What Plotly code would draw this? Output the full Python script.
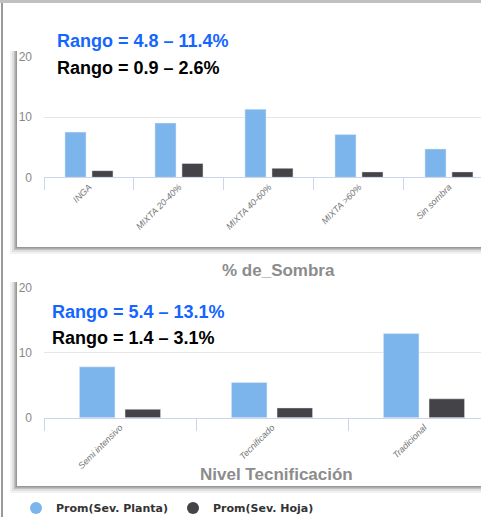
import plotly.graph_objects as go

W, H = 481, 517

# ---- data ----
sombra_cats = ["INGA", "MIXTA 20-40%", "MIXTA 40-60%", "MIXTA >60%", "Sin sombra"]
sombra_planta = [7.5, 9.0, 11.3, 7.1, 4.7]
sombra_hoja = [1.1, 2.3, 1.5, 0.9, 0.9]

tec_cats = ["Semi intensivo", "Tecnificado", "Tradicional"]
tec_planta = [7.8, 5.4, 12.9]
tec_hoja = [1.3, 1.5, 2.9]

y_ticks = [0, 10, 20]
series_names = ["Prom(Sev. Planta)", "Prom(Sev. Hoja)"]
colors = ["#7cb5ec", "#434348"]

range_texts_top = ["Rango = 4.8 – 11.4%", "Rango = 0.9 – 2.6%"]
range_texts_bot = ["Rango = 5.4 – 13.1%", "Rango = 1.4 – 3.1%"]
title_top = "% de_Sombra"
title_bot = "Nivel Tecnificación"


def px(x):
    return x / W


def py(y):
    return 1 - y / H


fig = go.Figure()

fig.add_trace(go.Bar(x=sombra_cats, y=sombra_planta, marker_color=colors[0],
                     xaxis="x", yaxis="y", showlegend=False, name=series_names[0]))
fig.add_trace(go.Bar(x=sombra_cats, y=sombra_hoja, marker_color=colors[1],
                     xaxis="x", yaxis="y", showlegend=False, name=series_names[1]))
fig.add_trace(go.Bar(x=tec_cats, y=tec_planta, marker_color=colors[0],
                     xaxis="x2", yaxis="y2", showlegend=False, name=series_names[0]))
fig.add_trace(go.Bar(x=tec_cats, y=tec_hoja, marker_color=colors[1],
                     xaxis="x2", yaxis="y2", showlegend=False, name=series_names[1]))

# legend entries (circle markers)
for name, c in zip(series_names, colors):
    fig.add_trace(go.Scatter(x=[None], y=[None], mode="markers", name=name,
                             marker=dict(symbol="circle", size=12, color=c),
                             xaxis="x", yaxis="y", showlegend=True))

xcommon = dict(type="category", tickson="boundaries", ticks="outside", ticklen=12,
               tickcolor="#ccd6eb", showline=True, linecolor="#ccd6eb", linewidth=1,
               tickangle=-45, showgrid=False, zeroline=False, automargin=False,
               tickfont=dict(family="Liberation Sans", size=9, color="#777", style="italic"))
ycommon = dict(tickvals=y_ticks, showgrid=True, gridcolor="#e6e6e6", zeroline=False,
               showline=False, ticks="", ticklabelstandoff=11, automargin=False,
               tickfont=dict(family="Liberation Sans", size=12, color="#888"))

# panels (soft shadow to the left / bottom + white card)
shapes = []
for (x0, y0, x1, y1) in [(17, 49, 485, 247), (17, 280, 485, 486)]:
    for off, alpha in [(7, 0.05), (5, 0.08), (3, 0.14), (1.5, 0.2)]:
        shapes.append(dict(type="rect", xref="paper", yref="paper", layer="below",
                           x0=px(x0 - off), x1=px(x1), y0=py(y1 + off), y1=py(y0 + 2),
                           fillcolor=f"rgba(0,0,0,{alpha})", line=dict(width=0)))
    shapes.append(dict(type="rect", xref="paper", yref="paper", layer="below",
                       x0=px(x0), x1=px(x1), y0=py(y1), y1=py(y0),
                       fillcolor="white", line=dict(width=0)))
# page frame lines
shapes.append(dict(type="line", xref="paper", yref="paper", x0=px(2), x1=px(2), y0=0, y1=1,
                   line=dict(color="#9a9a9a", width=2)))
shapes.append(dict(type="line", xref="paper", yref="paper", x0=0, x1=1, y0=py(1.5), y1=py(1.5),
                   line=dict(color="#c0c0c0", width=3)))

annotations = []
for txt, col, xx, yy in [(range_texts_top[0], "#1466ff", 55, 41),
                         (range_texts_top[1], "#000000", 55, 68),
                         (range_texts_bot[0], "#1466ff", 50, 312),
                         (range_texts_bot[1], "#000000", 50, 338)]:
    annotations.append(dict(text=txt, xref="paper", yref="paper", x=px(xx), y=py(yy),
                            xanchor="left", yanchor="middle", showarrow=False,
                            font=dict(family="Liberation Sans", size=18, color=col, weight="bold")))
annotations.append(dict(text=title_top, xref="paper", yref="paper", x=px(278), y=py(270),
                        xanchor="center", yanchor="middle", showarrow=False,
                        font=dict(family="Liberation Sans", size=17, color="#8c8c8c", weight="bold")))
annotations.append(dict(text=title_bot, xref="paper", yref="paper", x=px(276), y=py(474),
                        xanchor="center", yanchor="middle", showarrow=False,
                        font=dict(family="Liberation Sans", size=17, color="#8c8c8c", weight="bold")))

fig.update_layout(
    width=W, height=H,
    margin=dict(l=0, r=0, t=0, b=0, autoexpand=False),
    paper_bgcolor="white", plot_bgcolor="rgba(0,0,0,0)",
    barmode="group", bargap=0.4, bargroupgap=0.22,
    xaxis=dict(domain=[px(44), 1], range=[-0.5, 4.356], anchor="y", **xcommon),
    yaxis=dict(domain=[py(177.3), py(56.3)], range=[0, 20.08], anchor="x", **ycommon),
    xaxis2=dict(domain=[px(44), 1], range=[-0.5, 2.375], anchor="y2", **xcommon),
    yaxis2=dict(domain=[py(417.7), py(286.8)], range=[0, 20.08], anchor="x2", **ycommon),
    shapes=shapes,
    annotations=annotations,
    showlegend=True,
    legend=dict(orientation="h", x=px(16), y=py(508), xanchor="left", yanchor="middle",
                bgcolor="rgba(0,0,0,0)", itemwidth=30,
                font=dict(family="DejaVu Sans", size=11, color="#333", weight="bold")),
)

post = (
    "var s=document.createElement('style');"
    "s.textContent='html,body{margin:0;padding:0;overflow:hidden;width:481px;height:517px;}';"
    "document.head.appendChild(s);"
)
fig.write_html("out.html", config={"displayModeBar": False}, post_script=post)
